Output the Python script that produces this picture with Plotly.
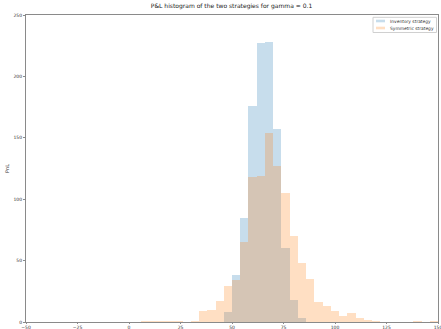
import plotly.graph_objects as go

# Histogram bins (width 4, from -50 to 150)
bin_start = -50
bin_width = 4
n_bins = 50

# Counts per bin
inventory_counts = [0]*24 + [8, 38, 85, 176, 227, 228, 157, 60, 18, 3] + [0]*16
symmetric_counts = ([0]*14 + [1, 1, 1, 1, 1, 0, 1, 9, 10, 17, 29, 34, 65, 118, 119, 154,
                     127, 105, 70, 48, 35, 16, 13, 9, 5, 7, 3, 2, 1, 0, 0, 0, 0, 1, 0, 1])

series_names = ["Inventory strategy", "Symmetric strategy"]
series_colors = ["rgba(31,119,180,0.25)", "rgba(255,127,14,0.25)"]

x_ticks = [-50, -25, 0, 25, 50, 75, 100, 125, 150]
y_ticks = [0, 50, 100, 150, 200, 250]

centers = [bin_start + bin_width*(k + 0.5) for k in range(n_bins)]

fig = go.Figure()
for counts, name, col in zip([inventory_counts, symmetric_counts], series_names, series_colors):
    fig.add_trace(go.Bar(x=centers, y=counts, width=bin_width, name=name,
                         marker=dict(color=col, line=dict(width=0)), showlegend=False))

axis_common = dict(showgrid=False, zeroline=False, showline=True, mirror=True,
                   linecolor="#8a8a8a", linewidth=1, ticks="outside",
                   tickcolor="#8a8a8a", automargin=False, ticklabeloverflow="allow",
                   tickfont=dict(family="DejaVu Sans", size=4.5, color="#333"))

# Legend drawn as a compact box (paper coordinates of the plot area)
L, R, T, B = 26, 438, 15, 322
def px(xp): return (xp - L) / (R - L)
def py(yp): return (B - yp) / (B - T)

shapes = [dict(type="rect", xref="paper", yref="paper",
               x0=px(373), x1=px(436.5), y0=py(32.5), y1=py(17.3),
               line=dict(color="#d0d0d0", width=1), fillcolor="rgba(255,255,255,0.8)", layer="above")]
annotations = []
for i, (name, col) in enumerate(zip(series_names, series_colors)):
    yc = 21 + 7*i
    shapes.append(dict(type="rect", xref="paper", yref="paper",
                       x0=px(376), x1=px(385), y0=py(yc + 1.3), y1=py(yc - 1.3),
                       line=dict(width=0), fillcolor=col, layer="above"))
    annotations.append(dict(xref="paper", yref="paper", x=px(388), y=py(yc),
                            xanchor="left", yanchor="middle", showarrow=False, text=name,
                            font=dict(family="DejaVu Sans", size=4.4, color="#333")))

fig.update_layout(
    width=441, height=329,
    margin=dict(l=L, r=441 - R, t=T, b=329 - B),
    paper_bgcolor="white", plot_bgcolor="white",
    barmode="overlay", bargap=0,
    title=dict(text="P&L histogram of the two strategies for gamma = 0.1",
               x=0.525, xanchor="center", y=0.988, yanchor="top",
               font=dict(family="DejaVu Sans", size=6, color="#222")),
    xaxis=dict(range=[-50, 150], tickvals=x_ticks, ticklen=1, **axis_common),
    yaxis=dict(range=[0, 250], tickvals=y_ticks, ticklen=2,
               title=dict(text="PnL", font=dict(family="DejaVu Sans", size=5, color="#333"), standoff=3),
               **axis_common),
    shapes=shapes, annotations=annotations,
    showlegend=False,
)

fig.write_html("out.html")
